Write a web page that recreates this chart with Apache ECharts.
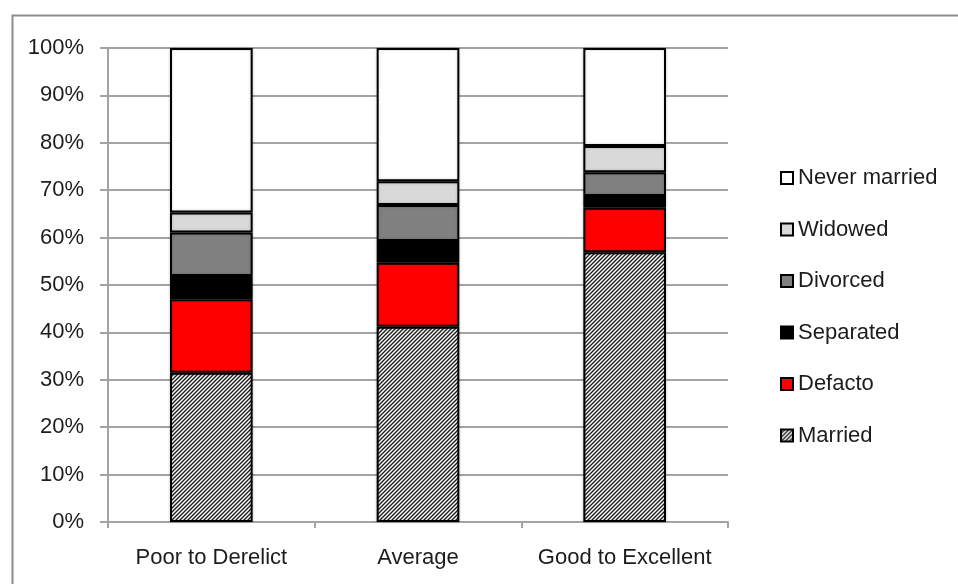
<!DOCTYPE html>
<html>
<head>
<meta charset="utf-8">
<script src="https://cdn.jsdelivr.net/npm/echarts@6/dist/echarts.min.js"></script>
<style>
  html, body { margin: 0; padding: 0; background: #fff; }
  #chart { width: 958px; height: 584px; }
</style>
</head>
<body>
<div id="chart"></div>
<script>
// Housing condition categories and percentage share of each marital status
const categories = ['Poor to Derelict', 'Average', 'Good to Excellent'];
const married      = [31.5, 41.2, 56.9];
const defacto      = [15.5, 13.5, 9.4];
const separated    = [4.9, 4.6, 2.5];
const divorced     = [9.2, 7.6, 5.0];
const widowed      = [4.2, 5.0, 5.5];
const neverMarried = [34.7, 28.1, 20.7];
const yTicks = [0, 10, 20, 30, 40, 50, 60, 70, 80, 90, 100];

// Diagonal hatch fill used for "Married"
function hatchPattern() {
  const s = 4;
  const c = document.createElement('canvas');
  c.width = s; c.height = s;
  const g = c.getContext('2d');
  g.fillStyle = '#ffffff';
  g.fillRect(0, 0, s, s);
  g.strokeStyle = '#1e1e1e';
  g.lineWidth = 1.4;
  g.beginPath();
  g.moveTo(-1, s + 1); g.lineTo(s + 1, -1);
  g.moveTo(-1, 1); g.lineTo(1, -1);
  g.moveTo(s - 1, s + 1); g.lineTo(s + 1, s - 1);
  g.stroke();
  return c;
}

const FONT = '"Liberation Sans", Arial, sans-serif';
const TEXT = '#1c1c1c';
const GRID = '#a3a3a3';

function barSeries(name, data, fill) {
  return {
    name: name,
    type: 'bar',
    stack: 'total',
    barWidth: '40%',
    data: data,
    itemStyle: {
      color: fill,
      borderColor: '#000',
      borderWidth: 2,
      shadowBlur: 3,
      shadowColor: 'rgba(0,0,0,0.2)'
    },
    emphasis: { disabled: true }
  };
}

const chart = echarts.init(document.getElementById('chart'), null, { renderer: 'canvas' });
chart.setOption({
  animation: false,
  backgroundColor: '#ffffff',
  graphic: [{
    type: 'rect',
    left: 10, top: 13,
    shape: { x: 0, y: 0, width: 1000, height: 1000 },
    style: { fill: 'none', stroke: '#8c8c8c', lineWidth: 2 },
    silent: true,
    z: -1
  }],
  grid: { left: 108, right: 230, top: 48, bottom: 62, containLabel: false },
  legend: {
    orient: 'vertical',
    left: 775,
    top: 162,
    icon: 'rect',
    itemWidth: 12,
    itemHeight: 12,
    itemGap: 29.5,
    selectedMode: false,
    data: ['Never married', 'Widowed', 'Divorced', 'Separated', 'Defacto', 'Married'],
    textStyle: { fontFamily: FONT, fontSize: 22, color: TEXT, lineHeight: 22 }
  },
  xAxis: {
    type: 'category',
    data: categories,
    axisLine: { lineStyle: { color: GRID, width: 2 } },
    axisTick: { show: true, inside: false, length: 6, alignWithLabel: false, lineStyle: { color: GRID, width: 2 } },
    axisLabel: { interval: 0, fontFamily: FONT, fontSize: 22, color: TEXT, margin: 25 }
  },
  yAxis: {
    type: 'value',
    min: yTicks[0],
    max: yTicks[yTicks.length - 1],
    interval: 10,
    axisLine: { show: true, lineStyle: { color: GRID, width: 2 } },
    axisTick: { show: true, length: 8, lineStyle: { color: GRID, width: 2 } },
    splitLine: { show: true, lineStyle: { color: GRID, width: 2 } },
    axisLabel: { fontFamily: FONT, fontSize: 22, color: TEXT, margin: 24, formatter: '{value}%' }
  },
  series: [
    barSeries('Married', married, { image: hatchPattern(), repeat: 'repeat' }),
    barSeries('Defacto', defacto, '#ff0000'),
    barSeries('Separated', separated, '#000000'),
    barSeries('Divorced', divorced, '#808080'),
    barSeries('Widowed', widowed, '#d9d9d9'),
    barSeries('Never married', neverMarried, '#ffffff')
  ]
});
</script>
</body>
</html>
